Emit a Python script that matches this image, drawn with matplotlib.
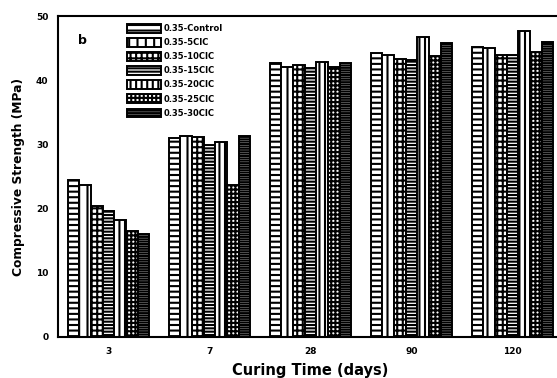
import numpy as np
import matplotlib.pyplot as plt

plt.rcParams['font.family'] = ['DejaVu Sans']
plt.rcParams['font.weight'] = 'bold'
plt.rcParams['hatch.linewidth'] = 1.5

# 抗压强度数据 (MPa)
curing_days = ["3", "7", "28", "90", "120"]
mixes = ["0.35-Control", "0.35-5CIC", "0.35-10CIC", "0.35-15CIC",
         "0.35-20CIC", "0.35-25CIC", "0.35-30CIC"]
control = [24.4, 31.0, 42.7, 44.2, 45.2]
cic_5 = [23.7, 31.3, 42.1, 43.9, 45.0]
cic_10 = [20.4, 31.1, 42.4, 43.3, 43.9]
cic_15 = [19.6, 29.9, 41.9, 43.1, 43.9]
cic_20 = [18.2, 30.4, 42.8, 46.7, 47.7]
cic_25 = [16.5, 23.7, 42.1, 43.8, 44.4]
cic_30 = [16.0, 31.3, 42.7, 45.8, 46.0]
series = [control, cic_5, cic_10, cic_15, cic_20, cic_25, cic_30]

hatches = ['---', '||', '+++', '-----', '|||', '++++', '-------']

fig = plt.figure(figsize=(5.57, 3.78), dpi=100)
ax = fig.add_axes([58 / 557, 41 / 378, 505 / 557, 321 / 378])

x = np.arange(len(curing_days))
n = len(series)
width = 0.81 / n
for i, vals in enumerate(series):
    offs = (i - (n - 1) / 2) * width
    ax.bar(x + offs, vals, width, facecolor='white', edgecolor='black',
           linewidth=1.4, hatch=hatches[i], label=mixes[i])

ax.set_xlim(-0.5, 4.5)
ax.set_ylim(0, 50)
ax.set_yticks([0, 10, 20, 30, 40, 50])
ax.set_xticks(x)
ax.set_xticklabels(curing_days)
ax.tick_params(length=0, labelsize=6.5, pad=7)
for s in ax.spines.values():
    s.set_linewidth(1.5)

ax.set_xlabel("Curing Time (days)", fontsize=10.5, fontweight='bold', labelpad=5)
ax.set_ylabel("Compressive Strength (MPa)", fontsize=8.8, fontweight='bold',
              labelpad=8)
ax.text(0.04, 0.945, "b", transform=ax.transAxes, fontsize=9, fontweight='bold',
        va='top')

leg = ax.legend(loc='upper left', bbox_to_anchor=(0.137, 0.975), frameon=False,
                fontsize=6, handlelength=4.0, handleheight=1.2,
                labelspacing=0.6, handletextpad=0.4, borderaxespad=0,
                borderpad=0)

fig.savefig("out.png", dpi=100)
